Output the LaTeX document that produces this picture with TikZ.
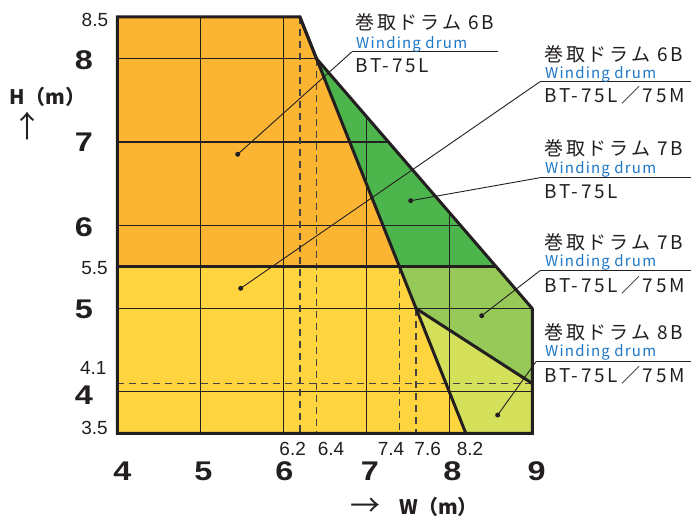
\documentclass[tikz,border=0pt]{standalone}
\usepackage{fontspec}
\usepackage{graphicx}
\setmainfont{Noto Sans CJK JP}
\newfontfamily\jp{Noto Sans CJK JP}
\newfontfamily\jpsp[LetterSpace=15]{Noto Sans CJK JP}
\newfontfamily\jpwd[LetterSpace=8]{Noto Sans CJK JP}
\newfontfamily\bnum{Liberation Sans}
\newfontfamily\bnumw[FakeStretch=1.2]{Liberation Sans}
\definecolor{ink}{HTML}{231F20}
\definecolor{cOr}{HTML}{FBB532}
\definecolor{cYe}{HTML}{FED53E}
\definecolor{cDg}{HTML}{4CB54C}
\definecolor{cMg}{HTML}{96C957}
\definecolor{cLg}{HTML}{D4E05A}
\definecolor{cBl}{HTML}{1E78C8}
\begin{document}
\begin{tikzpicture}[x=1bp,y=-1bp,
  thick line/.style={line width=3bp, draw=ink, line join=miter, line cap=round},
  grd/.style={line width=1.2bp, draw=ink},
  dsh/.style={line width=1.5bp, draw=ink!85, dash pattern=on 7bp off 5bp},
  lead/.style={line width=0.9bp, draw=ink},
  uline/.style={line width=1bp, draw=ink},
  dotn/.style={circle, fill=ink, inner sep=0pt, minimum size=5bp},
  ttl/.style={font=\jpsp\fontsize{19bp}{19bp}\selectfont, text=ink, inner sep=0pt, anchor=west},
  wd/.style={font=\jpwd\fontsize{15bp}{15bp}\selectfont, text=cBl, inner sep=0pt, anchor=west},
  num/.style={font=\bnum\fontsize{19bp}{19bp}\selectfont, text=ink, inner sep=0pt},
  big/.style={font=\bnumw\bfseries\fontsize{27bp}{27bp}\selectfont, text=ink, inner sep=0pt},
  axl/.style={font=\jp\bfseries\fontsize{20bp}{20bp}\selectfont, text=ink, inner sep=0pt},
  arr/.style={font=\jp\fontsize{30bp}{30bp}\selectfont, text=ink, inner sep=0pt}]
\useasboundingbox (0,0) rectangle (691,523);
\fill[white] (0,0) rectangle (691,523);

\begin{scope}[shift={(-214.7,725.05)}, x=83bp, y=83.3bp]
  % regions
  \fill[cOr] (4,5.5) -- (4,8.5) -- (6.2,8.5) -- (7.4,5.5) -- cycle;
  \fill[cDg] (6.4,8) -- (8.5667,5.5) -- (7.4,5.5) -- cycle;
  \fill[cYe] (4,3.5) -- (4,5.5) -- (7.4,5.5) -- (8.2,3.5) -- cycle;
  \fill[cMg] (7.4,5.5) -- (8.5667,5.5) -- (9,5) -- (9,4.1) -- (7.6,5) -- cycle;
  \fill[cLg] (7.6,5) -- (9,4.1) -- (9,3.5) -- (8.2,3.5) -- cycle;
  % grid
  \begin{scope}
    \clip (4,3.5) -- (4,8.5) -- (6.2,8.5) -- (6.4,8) -- (9,5) -- (9,3.5) -- cycle;
    \foreach \gx in {5,6,7,8} \draw[grd] (\gx,3.5) -- (\gx,8.5);
    \foreach \gy in {4,5,6,7,8} \draw[grd] (4,\gy) -- (9,\gy);
  \end{scope}
  % dashed
  \draw[dsh] (6.2,8.5) -- (6.2,3.5);
  \draw[dsh] (6.4,8) -- (6.4,3.5);
  \draw[dsh] (7.4,5.5) -- (7.4,3.5);
  \draw[dsh] (7.6,5) -- (7.6,3.5);
  \draw[dsh] (4,4.1) -- (9,4.1);
  % thick outlines
  \draw[thick line] (9,5) -- (6.4,8) -- (6.2,8.5) -- (4,8.5) -- (4,3.5) -- (9,3.5) -- (9,5);
  \draw[thick line] (6.2,8.5) -- (8.2,3.5);
  \draw[thick line] (4,5.5) -- (8.5667,5.5);
  \draw[thick line] (7.6,5) -- (9,4.1);
\end{scope}

% dots
\node[dotn] (dA) at (237.7,154.3) {};
\node[dotn] (dB) at (240.7,288.3) {};
\node[dotn] (dC) at (410.7,200.7) {};
\node[dotn] (dD) at (481.7,315.7) {};
\node[dotn] (dE) at (497.7,415) {};

% label underlines
\coordinate (uA) at (351.7,52);   \coordinate (uAr) at (498,52);
\coordinate (uB) at (540,81.7);   \coordinate (uBr) at (691,81.7);
\coordinate (uC) at (540,177.7);  \coordinate (uCr) at (691,177.7);
\coordinate (uD) at (540,270.7);  \coordinate (uDr) at (691,270.7);
\coordinate (uE) at (536,361.7);  \coordinate (uEr) at (691,361.7);
\draw[uline] (uA) -- (uAr);
\draw[uline] (uB) -- (uBr);
\draw[uline] (uC) -- (uCr);
\draw[uline] (uD) -- (uDr);
\draw[uline] (uE) -- (uEr);
\draw[lead] (uA) -- (dA.center);
\draw[lead] (uB) -- (dB.center);
\draw[lead] (uC) -- (dC.center);
\draw[lead] (uD) -- (dD.center);
\draw[lead] (uE) -- (dE.center);

% label texts
\node[ttl] (tA) at (355,22) {巻取ドラム 6B};
\node[wd]  (wA) at (356,44) {Winding drum};
\node[ttl] (bA) at (355,66) {BT-75L};

\node[ttl] (tB) at (544,54.5) {巻取ドラム 6B};
\node[wd]  (wB) at (545,74) {Winding drum};
\node[ttl] (bB) at (544,95) {BT-75L／75M};

\node[ttl] (tC) at (544,148.5) {巻取ドラム 7B};
\node[wd]  (wC) at (545,169) {Winding drum};
\node[ttl] (bC) at (544,192) {BT-75L};

\node[ttl] (tD) at (544,242) {巻取ドラム 7B};
\node[wd]  (wD) at (545,262.5) {Winding drum};
\node[ttl] (bD) at (544,285) {BT-75L／75M};

\node[ttl] (tE) at (544,332.5) {巻取ドラム 8B};
\node[wd]  (wE) at (545,352.7) {Winding drum};
\node[ttl] (bE) at (544,375) {BT-75L／75M};

% y axis labels
\node[num, anchor=east] (y85) at (108.3,20) {8.5};
\node[num, anchor=east] (y55) at (108,268.5) {5.5};
\node[num, anchor=east] (y41) at (106.7,368) {4.1};
\node[num, anchor=east] (y35) at (108,427.5) {3.5};
\node[big] (y8) at (84,60) {8};
\node[big] (y7) at (84,142.5) {7};
\node[big] (y6) at (84,227.5) {6};
\node[big] (y5) at (84,309) {5};
\node[big] (y4) at (84,395) {4};
\node[axl] (hm) at (47.5,97) {H（m）};
\node[arr] (har) at (27,126) {↑};

% x axis labels
\node[num] (x62) at (292.7,449) {6.2};
\node[num] (x64) at (331,449) {6.4};
\node[num] (x74) at (391,449) {7.4};
\node[num] (x76) at (427.7,449) {7.6};
\node[num] (x82) at (470,449) {8.2};
\node[big] (x4) at (122.5,471) {4};
\node[big] (x5) at (203.5,471) {5};
\node[big] (x6) at (284.5,471) {6};
\node[big] (x7) at (370,471) {7};
\node[big] (x8) at (452.5,471) {8};
\node[big] (x9) at (536.7,471) {9};
\node[arr] (war) at (365.5,507) {→};
\node[axl] (wm) at (438.5,507) {W（m）};
\end{tikzpicture}
\end{document}
